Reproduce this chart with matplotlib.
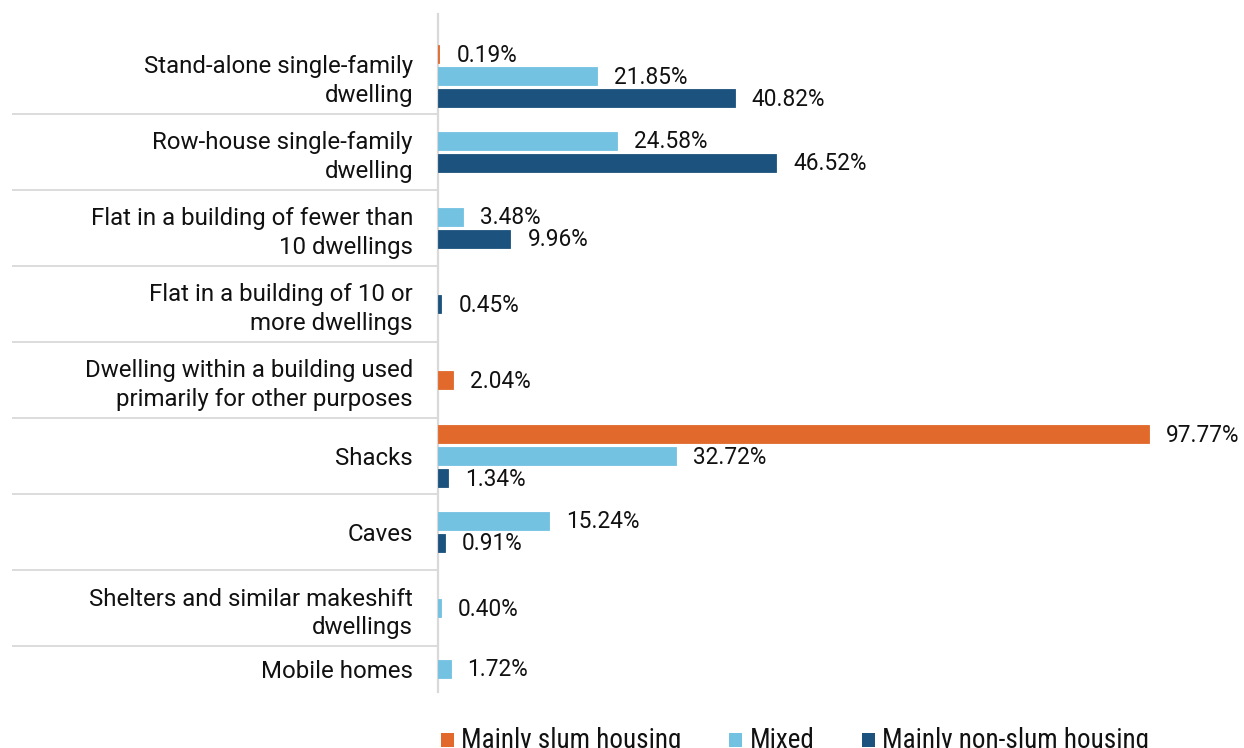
import matplotlib
matplotlib.use("Agg")
import matplotlib.pyplot as plt
from matplotlib.patches import Rectangle
from matplotlib.transforms import blended_transform_factory
from matplotlib import font_manager

# ---------------- data ----------------
categories = [
    "Stand-alone single-family\ndwelling",
    "Row-house single-family\ndwelling",
    "Flat in a building of fewer than\n10 dwellings",
    "Flat in a building of 10 or\nmore dwellings",
    "Dwelling within a building used\nprimarily for other purposes",
    "Shacks",
    "Caves",
    "Shelters and similar makeshift\ndwellings",
    "Mobile homes",
]
series_names = ["Mainly slum housing", "Mixed", "Mainly non-slum housing"]
slum = [0.19, 0, 0, 0, 2.04, 97.77, 0, 0, 0]
mixed = [21.85, 24.58, 3.48, 0, 0, 32.72, 15.24, 0.40, 1.72]
nonslum = [40.82, 46.52, 9.96, 0.45, 0, 1.34, 0.91, 0, 0]
colors = ["#E0692B", "#73C2E1", "#1C527E"]

series = [slum, mixed, nonslum]

# ---------------- layout ----------------
W, H = 1244, 748
fig = plt.figure(figsize=(W / 100, H / 100), dpi=100)
fig.patch.set_facecolor("white")

plt.rcParams["font.family"] = ["Roboto", "DejaVu Sans"]

band_px = 76.0
ax_left, ax_right = 438, 1238
ax_top, ax_bottom = 38, 692
ax = fig.add_axes([ax_left / W, (H - ax_bottom) / H,
                   (ax_right - ax_left) / W, (ax_bottom - ax_top) / H])
n = len(categories)
y_max = (ax_bottom - ax_top) / band_px
ax.set_ylim(y_max, 0)
px_per_unit = 7.272
ax.set_xlim(0, (ax_right - ax_left) / px_per_unit)

for s in ax.spines.values():
    s.set_visible(False)
ax.set_xticks([])

centers = [(i + min(i + 1, y_max)) / 2 for i in range(n)]
ax.set_yticks(centers)
ax.set_yticklabels(categories, fontsize=17.3, color="#111111", linespacing=1.28)
ax.tick_params(axis="y", length=0, pad=18)

bar_h = 18 / band_px
pitch = 22 / band_px
for i in range(n):
    present = [k for k in range(3) if series[k][i] > 0]
    m = len(present)
    for j, k in enumerate(present):
        y = centers[i] + (j - (m - 1) / 2) * pitch
        v = series[k][i]
        ax.barh(y, v, height=bar_h, color=colors[k], edgecolor=colors[k],
                linewidth=0.6, zorder=3)
        ax.annotate(f"{v:.2f}%", xy=(v, y), xytext=(17, -1),
                    textcoords="offset pixels", va="center", ha="left",
                    fontsize=16.3, color="#111111")

# separators and axis line
trans = blended_transform_factory(ax.transAxes, ax.transData)
sep_x0 = (12 - ax_left) / (ax_right - ax_left)
for b in range(1, n):
    ax.plot([sep_x0, 0], [b, b], transform=trans, color="#D9D9D9",
            lw=1.3, clip_on=False, solid_capstyle="butt", zorder=1)
ax.plot([0, 0], [0, (ax_bottom - 14) / (ax_bottom - ax_top)],
        transform=ax.transAxes, color="#D9D9D9", lw=1.6, clip_on=False,
        zorder=1)

# ---------------- legend (bottom, partly cut) ----------------
narrow = None
for name in ["Liberation Sans Narrow", "Roboto Condensed", "DejaVu Sans"]:
    try:
        font_manager.findfont(name, fallback_to_default=False)
        narrow = name
        break
    except Exception:
        continue

fig.canvas.draw()
renderer = fig.canvas.get_renderer()
x = 441
base_y = 748
for k, name in enumerate(series_names):
    fig.patches.append(Rectangle((x / W, (H - 747) / H), 13 / W, 14 / H,
                                 transform=fig.transFigure, color=colors[k],
                                 linewidth=0))
    t = fig.text((x + 20) / W, (H - base_y) / H, name, fontsize=19.5,
                 family=[narrow, "DejaVu Sans"], color="#111111",
                 va="baseline", ha="left")
    bb = t.get_window_extent(renderer)
    x = x + 20 + bb.width + 48

fig.savefig("out.png", dpi=100, facecolor="white")
